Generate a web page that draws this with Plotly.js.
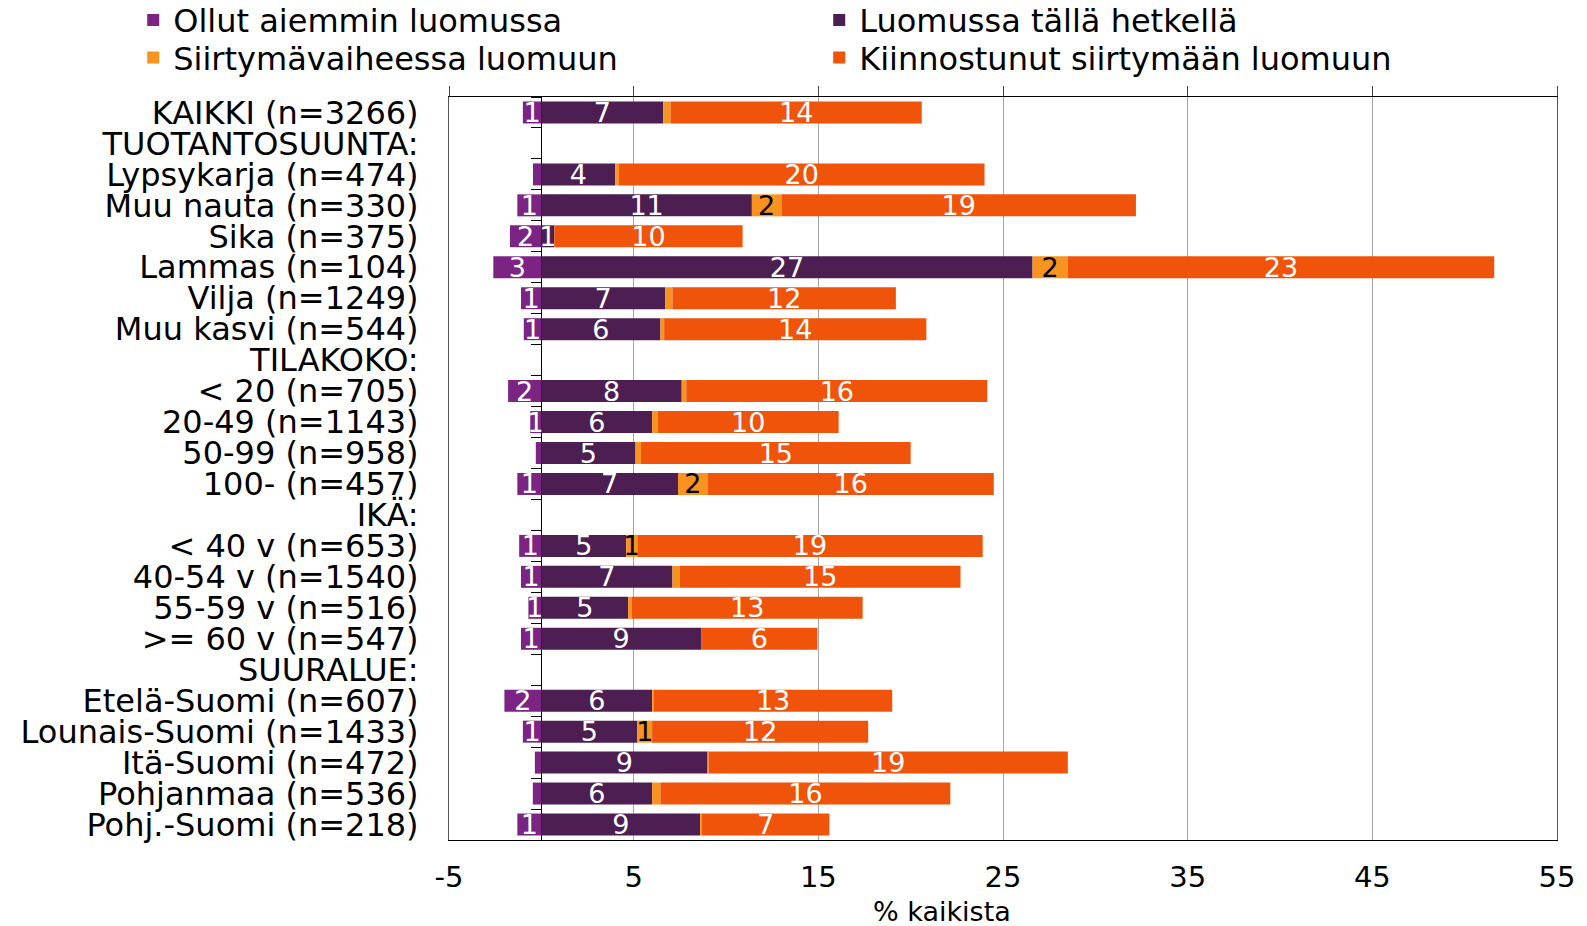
<!DOCTYPE html>
<html>
<head>
<meta charset="utf-8">
<script src="https://cdn.plot.ly/plotly-3.0.1.min.js"></script>
<style>html,body{margin:0;padding:0;background:#fff;}#chart{width:1587px;height:926px;}</style>
</head>
<body>
<div id="chart"></div>
<script>
const categories = [
  "KAIKKI (n=3266)", "TUOTANTOSUUNTA:", "Lypsykarja (n=474)", "Muu nauta (n=330)",
  "Sika (n=375)", "Lammas (n=104)", "Vilja (n=1249)", "Muu kasvi (n=544)",
  "TILAKOKO:", "< 20 (n=705)", "20-49 (n=1143)", "50-99 (n=958)", "100- (n=457)",
  "IKÄ:", "< 40 v (n=653)", "40-54 v (n=1540)", "55-59 v (n=516)", ">= 60 v (n=547)",
  "SUURALUE:", "Etelä-Suomi (n=607)", "Lounais-Suomi (n=1433)", "Itä-Suomi (n=472)",
  "Pohjanmaa (n=536)", "Pohj.-Suomi (n=218)"
];
const seriesNames = ["Ollut aiemmin luomussa", "Luomussa tällä hetkellä",
  "Siirtymävaiheessa luomuun", "Kiinnostunut siirtymään luomuun"];
// Ollut aiemmin luomussa (drawn to the left of zero)
const aiemmin = [-1.0, null, -0.45, -1.3, -1.7, -2.6, -1.1, -0.95, null, -1.8, -0.6, -0.3, -1.3,
  null, -1.2, -1.1, -0.7, -1.1, null, -2.0, -1.0, -0.35, -0.46, -1.3];
const nyt = [6.6, null, 4.0, 11.4, 0.7, 26.6, 6.7, 6.45, null, 7.6, 6.0, 5.1, 7.4,
  null, 4.6, 7.1, 4.7, 8.65, null, 6.0, 5.2, 9.0, 6.0, 8.6];
const siirtyma = [0.4, null, 0.2, 1.6, 0.0, 1.9, 0.4, 0.2, null, 0.25, 0.3, 0.3, 1.6,
  null, 0.6, 0.4, 0.2, 0.0, null, 0.1, 0.8, 0.06, 0.45, 0.1];
const kiinnostunut = [13.6, null, 19.8, 19.2, 10.2, 23.1, 12.1, 14.2, null, 16.3, 9.8, 14.6, 15.5,
  null, 18.7, 15.2, 12.5, 6.3, null, 12.9, 11.7, 19.45, 15.7, 6.9];
const colors = ["#7b2483", "#4c1e52", "#f7931e", "#f0540a"];
const textColors = ["#ffffff", "#ffffff", "#000000", "#ffffff"];
const legendOf = ["legend", "legend", "legend2", "legend2"];
const xTicks = [-5, 5, 15, 25, 35, 45, 55];
const xTitle = "% kaikista";

const FONT = "DejaVu Sans, Verdana, sans-serif";
const label = v => (v === null || Math.abs(v) < 0.5) ? "" : String(Math.round(Math.abs(v)));

const allSeries = [aiemmin, nyt, siirtyma, kiinnostunut];
const traces = allSeries.map((vals, i) => ({
  type: "bar",
  orientation: "h",
  name: seriesNames[i],
  legend: legendOf[i],
  y: categories,
  x: vals,
  text: vals.map(label),
  textposition: "inside",
  insidetextanchor: "middle",
  textangle: 0,
  textfont: {family: FONT, size: 27, color: textColors[i]},
  marker: {color: colors[i], line: {width: 0}},
  hoverinfo: "name+x"
}));
// helper traces without drawable points, only so the overlay axes
// (ticks above the frame, ticks along the zero line) get drawn
traces.push({type: "scatter", mode: "markers", x: [null], y: [null], xaxis: "x2", yaxis: "y",
  showlegend: false, hoverinfo: "skip", marker: {opacity: 0}});
traces.push({type: "scatter", mode: "markers", x: [null], y: [null], xaxis: "x", yaxis: "y2",
  showlegend: false, hoverinfo: "skip", marker: {opacity: 0}});

const nCat = categories.length;
const boundaries = categories.map((c, i) => i - 0.5).concat([nCat - 0.5]);

const legendCommon = {
  orientation: "h", x: -0.285, xanchor: "left", yanchor: "top",
  entrywidth: 641, entrywidthmode: "pixels", bgcolor: "rgba(0,0,0,0)",
  font: {family: FONT, size: 32, color: "#000"},
  traceorder: "normal", itemclick: false, itemdoubleclick: false
};

const layout = {
  width: 1587, height: 926,
  margin: {l: 449, r: 30, t: 97, b: 86, autoexpand: false},
  paper_bgcolor: "#fff", plot_bgcolor: "#fff",
  font: {family: FONT, size: 32, color: "#000"},
  barmode: "relative",
  bargap: 0.29,
  showlegend: true,
  legend: Object.assign({}, legendCommon, {y: 1.1405}),
  legend2: Object.assign({}, legendCommon, {y: 1.090}),
  uniformtext: {mode: "show", minsize: 27},
  xaxis: {
    range: [-5, 55], tickvals: xTicks, ticktext: xTicks.map(String),
    showgrid: true, gridcolor: "#a6a6a6", gridwidth: 1,
    zeroline: true, zerolinecolor: "#000", zerolinewidth: 1,
    showline: true, linecolor: "#000", linewidth: 1, mirror: true,
    ticks: "", ticklabelstandoff: 11,
    tickfont: {family: FONT, size: 29, color: "#000"}
  },
  xaxis2: {
    overlaying: "x", side: "top", anchor: "y", range: [-5, 55], autorange: false,
    tickmode: "array", tickvals: xTicks,
    ticks: "outside", ticklen: 10, tickcolor: "#444", tickwidth: 1, showticklabels: false,
    showgrid: false, zeroline: false, showline: false
  },
  yaxis: {
    type: "category", autorange: "reversed",
    tickmode: "array", tickvals: categories, ticktext: categories,
    showline: true, linecolor: "#555", linewidth: 1, mirror: true,
    showgrid: false, ticks: "", ticklabelstandoff: 23,
    tickfont: {family: FONT, size: 32, color: "#000"}
  },
  yaxis2: {
    overlaying: "y", anchor: "free", position: 5 / 60, side: "left",
    type: "linear", range: [nCat - 0.5, -0.5], autorange: false,
    tickmode: "array", tickvals: boundaries,
    ticks: "outside", ticklen: 10, tickcolor: "#000", tickwidth: 1, showticklabels: false,
    showgrid: false, zeroline: false, showline: false
  },
  annotations: [{
    text: xTitle, xref: "paper", yref: "paper", x: 0.445, y: -0.096,
    xanchor: "center", yanchor: "middle", showarrow: false,
    font: {family: FONT, size: 27, color: "#000"}
  }]
};

Plotly.newPlot("chart", traces, layout, {staticPlot: true, displayModeBar: false});
</script>
</body>
</html>
